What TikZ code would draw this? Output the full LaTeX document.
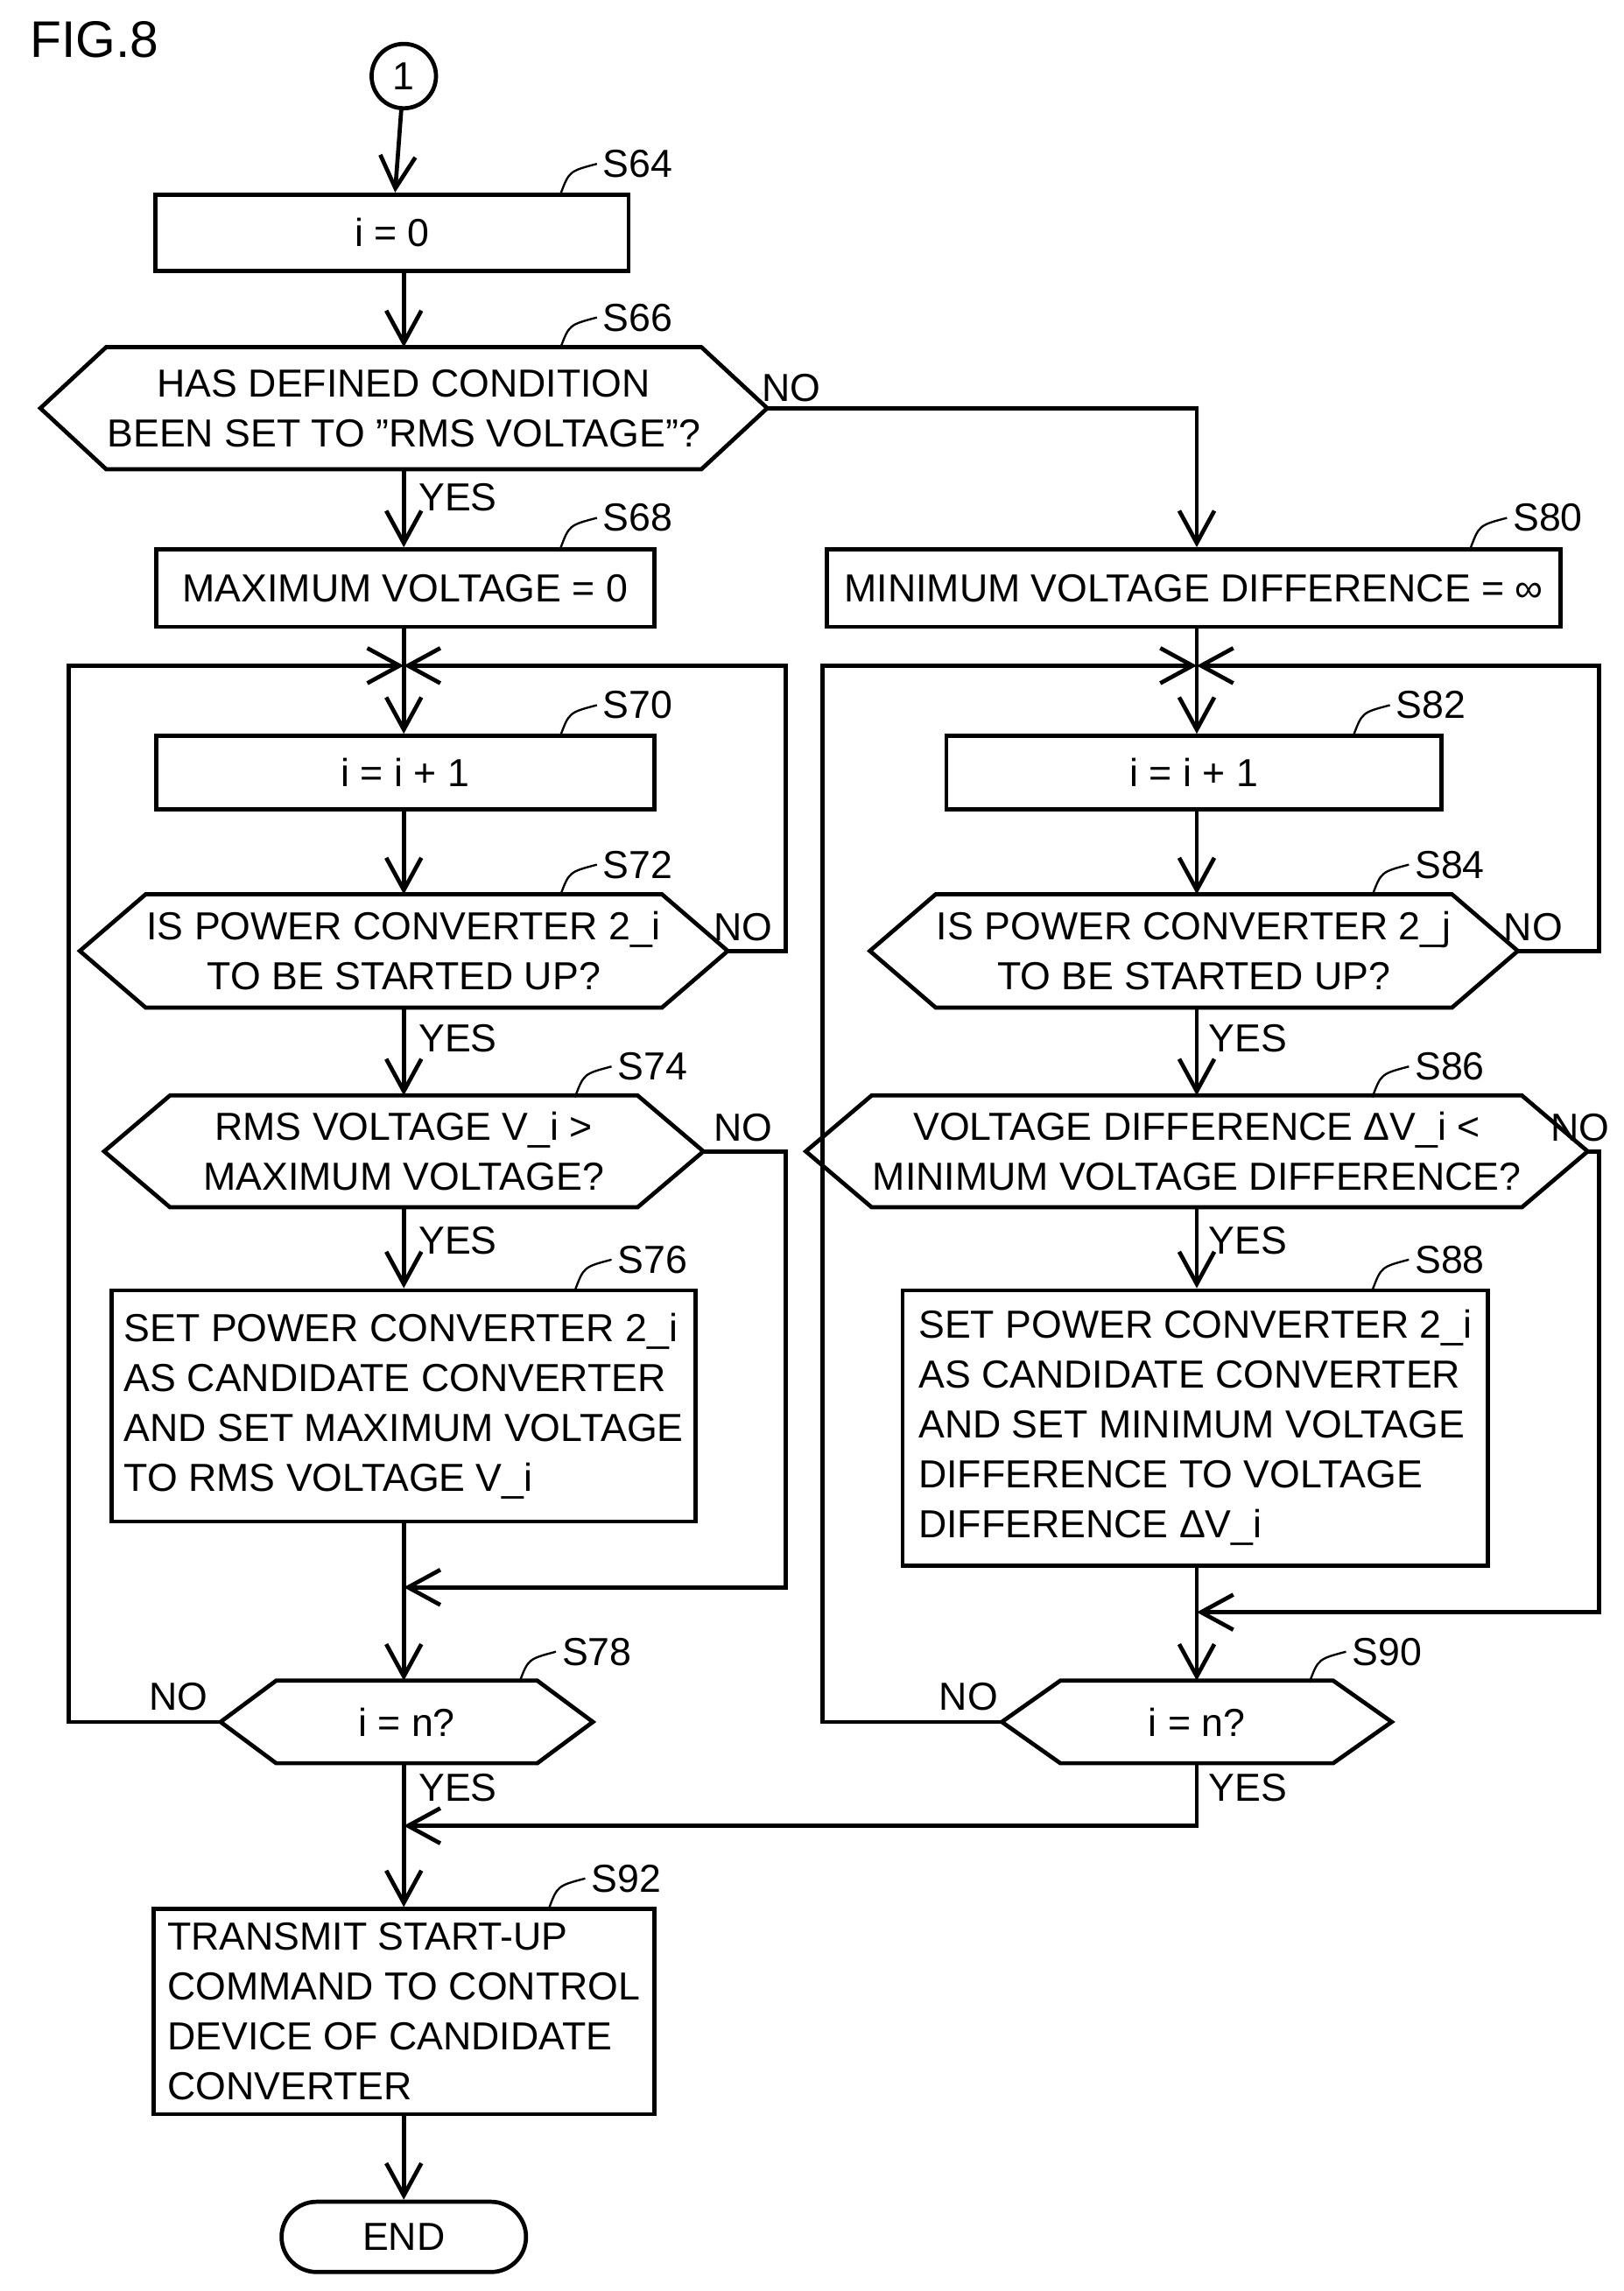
\documentclass[tikz,border=0pt]{standalone}
\usepackage{fontspec}
\setmainfont{Liberation Sans}
\usetikzlibrary{calc,arrows.meta}

% hexagonal decision: name, x, y, inner width, height, tip, text
\newcommand{\decnode}[7]{%
  \node[dtext, minimum width=#4cm, minimum height=#5cm] (#1) at (#2,#3) {#7};
  \draw[line] (#1.north west) -- ($(#1.west)+(-#6,0)$) coordinate (#1-l)
    -- (#1.south west) -- (#1.south east) -- ($(#1.east)+(#6,0)$) coordinate (#1-r)
    -- (#1.north east) -- cycle;}
% step label with leader
\newcommand{\steplbl}[3]{%
  \draw[thin] (#1,#2) .. controls (#1+6,#2-16) .. (#1+25,#2-21) node[right,inner sep=1pt] {#3};}

\begin{document}
\begin{tikzpicture}[x=0.01cm,y=-0.01cm,
    every node/.style={font=\fontsize{7.6}{9.7}\selectfont},
    line/.style={line width=0.8pt},
    box/.style={draw,line width=0.8pt,inner sep=0pt,align=left},
    dtext/.style={inner sep=0pt,align=center},
    arr/.style={line width=0.8pt,-{Straight Barb[length=2.2mm,width=2.4mm]}}
  ]
  \useasboundingbox (0,0) rectangle (1110,1566);
  \node[anchor=west,font=\fontsize{10}{12}\selectfont] (fig) at (8,27) {FIG.8};
  \node (c1) [draw,line,circle,minimum size=0.44cm,inner sep=0pt] at (276,52) {1};

  % left branch
  \node (s64) [box,minimum width=3.23cm,minimum height=0.52cm] at (268,159) {i = 0};
  \decnode{s66}{276}{279}{4.03}{0.82}{45}{HAS DEFINED CONDITION\\BEEN SET TO ”RMS VOLTAGE”?}
  \node (s68) [box,minimum width=3.40cm,minimum height=0.53cm] at (277,402) {MAXIMUM VOLTAGE = 0};
  \coordinate (m1) at (276,455);
  \node (s70) [box,minimum width=3.40cm,minimum height=0.50cm] at (277,528) {i = i + 1};
  \decnode{s72}{276}{650}{3.18}{0.76}{45}{IS POWER CONVERTER 2\_i\\TO BE STARTED UP?}
  \decnode{s74}{276}{787}{3.18}{0.75}{45}{RMS VOLTAGE V\_i >\\MAXIMUM VOLTAGE?}
  \node (s76) [box,minimum width=3.99cm,minimum height=1.58cm] at (276,961)
    {SET POWER CONVERTER 2\_i\\AS CANDIDATE CONVERTER\\AND SET MAXIMUM VOLTAGE\\TO RMS VOLTAGE V\_i};
  \coordinate (j1) at (276,1085);
  \decnode{s78}{278}{1177}{1.77}{0.55}{38}{i = n?}
  \coordinate (j3) at (276,1248);
  \node (s92) [box,minimum width=3.42cm,minimum height=1.40cm] at (276,1375)
    {TRANSMIT START-UP\\COMMAND TO CONTROL\\DEVICE OF CANDIDATE\\CONVERTER};
  \node (end) [draw,line,rounded corners=0.24cm,minimum width=1.67cm,minimum height=0.48cm,inner sep=0pt] at (276,1529) {END};

  % right branch
  \node (s80) [box,minimum width=5.01cm,minimum height=0.53cm] at (816,402) {MINIMUM VOLTAGE DIFFERENCE = ∞};
  \coordinate (m2) at (818,455);
  \node (s82) [box,minimum width=3.38cm,minimum height=0.50cm] at (816,528) {i = i + 1};
  \decnode{s84}{816}{650}{3.18}{0.76}{45}{IS POWER CONVERTER 2\_j\\TO BE STARTED UP?}
  \decnode{s86}{818}{787}{3.81}{0.75}{45}{VOLTAGE DIFFERENCE ΔV\_i <\\MINIMUM VOLTAGE DIFFERENCE?}
  \node (s88) [box,minimum width=4.00cm,minimum height=1.88cm] at (817,976)
    {SET POWER CONVERTER 2\_i\\AS CANDIDATE CONVERTER\\AND SET MINIMUM VOLTAGE\\DIFFERENCE TO VOLTAGE\\DIFFERENCE ΔV\_i};
  \coordinate (j2) at (818,1102);
  \decnode{s90}{818}{1177}{1.85}{0.55}{40}{i = n?}

  % main flow
  \draw[arr] (c1) -- (s64);
  \draw[arr] (s64.south -| c1) -- (s66);
  \draw[arr] (s66) -- (s68.north -| s66);
  \draw[arr] (s68.south -| m1) -- (s70.north -| m1);
  \draw[arr] (s70.south -| m1) -- (s72);
  \draw[arr] (s72) -- (s74);
  \draw[arr] (s74) -- (s76);
  \draw[arr] (s76.south -| j1) -- (s78.north -| j1);
  \draw[arr] (s78.south -| j1) -- (s92.north -| j1);
  \draw[arr] (s92.south -| j1) -- (end);
  \draw[arr] (s66-r) -- (818,279) -- (s80.north -| m2);
  \draw[arr] (s80.south -| m2) -- (s82.north -| m2);
  \draw[arr] (s82.south -| m2) -- (s84.north -| m2);
  \draw[arr] (s84.south -| m2) -- (s86);
  \draw[arr] (s86) -- (s88.north -| s86);
  \draw[arr] (s88.south -| j2) -- (s90);

  % loops and joins
  \draw[arr] (s78-l) -- (47,1177) -- (47,455) -- (m1);
  \draw[arr] (s72-r) -- (537,650) -- (537,455) -- (m1);
  \draw[arr] (s74-r) -- (537,787) -- (537,1085) -- (j1);
  \draw[arr] (s90-l) -- (562,1177) -- (562,455) -- (m2);
  \draw[arr] (s84-r) -- (1093,650) -- (1093,455) -- (m2);
  \draw[arr] (s86-r) -- (1093,787) -- (1093,1102) -- (j2);
  \draw[arr] (s90.south) -- (818,1248) -- (j3);

  % yes / no
  \node (n66) at (541,265) {NO};
  \node (y66) at (313,340) {YES};
  \node (n72) at (508,634) {NO};
  \node (y72) at (313,710) {YES};
  \node (n74) at (508,771) {NO};
  \node (y74) at (313,848) {YES};
  \node (n78) at (122,1160) {NO};
  \node (y78) at (313,1222) {YES};
  \node (n84) at (1048,634) {NO};
  \node (y84) at (853,710) {YES};
  \node (n86) at (1080,771) {NO};
  \node (y86) at (853,848) {YES};
  \node (n90) at (662,1160) {NO};
  \node (y90) at (853,1222) {YES};

  % step labels
  \steplbl{383}{133}{S64}
  \steplbl{383}{238}{S66}
  \steplbl{383}{375}{S68}
  \steplbl{383}{503}{S70}
  \steplbl{383}{612}{S72}
  \steplbl{393}{750}{S74}
  \steplbl{393}{882}{S76}
  \steplbl{355}{1150}{S78}
  \steplbl{1005}{375}{S80}
  \steplbl{925}{503}{S82}
  \steplbl{938}{612}{S84}
  \steplbl{938}{750}{S86}
  \steplbl{938}{882}{S88}
  \steplbl{895}{1150}{S90}
  \steplbl{375}{1305}{S92}
\end{tikzpicture}
\end{document}
